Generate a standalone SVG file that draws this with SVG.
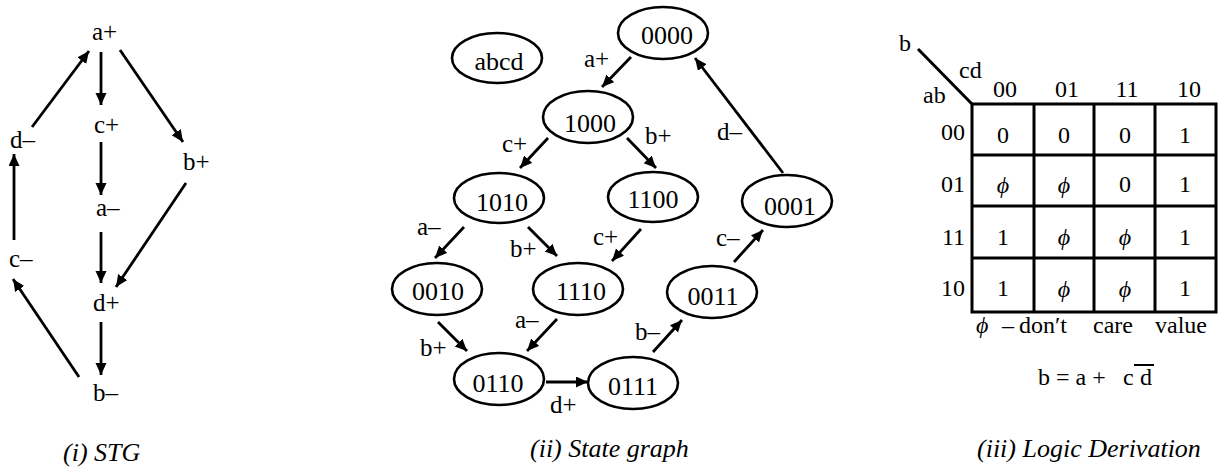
<svg xmlns="http://www.w3.org/2000/svg" width="1218" height="471" viewBox="0 0 1218 471">
<style>
text{font-family:"Liberation Serif","Times New Roman",serif;fill:#000}
.lb{font-size:25px}
.dg{font-size:26px;text-anchor:middle}
.cap{font-size:26px;font-style:italic}
.km{font-size:24px}
.kc{font-size:24px;text-anchor:middle}
.phi{font-style:italic;font-family:"Liberation Serif","DejaVu Serif",serif}
.st{fill:#fff;stroke:#000;stroke-width:2.6}
.ar{stroke:#000;stroke-width:2.8;fill:none;marker-end:url(#ah)}
.gr{stroke:#000;stroke-width:3;fill:none}
</style>
<defs>
<marker id="ah" markerUnits="userSpaceOnUse" markerWidth="14" markerHeight="12" refX="12" refY="5.5" orient="auto">
<path d="M0,0 L12,5.5 L0,11 z" fill="#000"/>
</marker>
</defs>
<rect width="1218" height="471" fill="#fff"/>

<!-- (i) STG -->
<g id="stg-connectors">
<line class="ar" x1="101" y1="52" x2="101" y2="105"/>
<line class="ar" x1="101" y1="142" x2="101" y2="195"/>
<line class="ar" x1="101" y1="232" x2="101" y2="283"/>
<line class="ar" x1="101" y1="322" x2="101" y2="375"/>
<line class="ar" x1="79" y1="377" x2="13" y2="279"/>
<line class="ar" x1="14" y1="240" x2="14" y2="154"/>
<line class="ar" x1="32" y1="127" x2="89" y2="51"/>
<line class="ar" x1="120" y1="50" x2="183" y2="142"/>
<line class="ar" x1="186" y1="183" x2="116" y2="287"/>
</g>
<g id="stg-aplus"><text class="lb" x="92" y="40">a+</text></g>
<g id="stg-cplus"><text class="lb" x="94" y="133">c+</text></g>
<g id="stg-aminus"><text class="lb" x="96" y="216">a–</text></g>
<g id="stg-dplus"><text class="lb" x="93" y="311">d+</text></g>
<g id="stg-bminus"><text class="lb" x="93" y="401">b–</text></g>
<g id="stg-dminus"><text class="lb" x="10" y="148">d–</text></g>
<g id="stg-cminus"><text class="lb" x="9" y="267">c–</text></g>
<g id="stg-bplus"><text class="lb" x="183" y="170">b+</text></g>
<text class="cap" x="63" y="461">(i) STG</text>

<!-- (ii) State graph -->
<g id="sg-connectors">
<line class="ar" x1="631" y1="57" x2="602" y2="87"/>
<line class="ar" x1="548" y1="138" x2="520" y2="168"/>
<line class="ar" x1="627" y1="138" x2="656" y2="168"/>
<line class="ar" x1="783" y1="173" x2="695" y2="58"/>
<line class="ar" x1="464" y1="227" x2="435" y2="258"/>
<line class="ar" x1="528" y1="227" x2="557" y2="256"/>
<line class="ar" x1="641" y1="229" x2="612" y2="261"/>
<line class="ar" x1="734" y1="262" x2="763" y2="230"/>
<line class="ar" x1="438" y1="322" x2="467" y2="351"/>
<line class="ar" x1="557" y1="319" x2="527" y2="351"/>
<line class="ar" x1="546" y1="382" x2="588" y2="382"/>
<line class="ar" x1="653" y1="352" x2="682" y2="320"/>
<text class="lb" x="584" y="67">a+</text>
<text class="lb" x="502" y="152">c+</text>
<text class="lb" x="645" y="144">b+</text>
<text class="lb" x="717" y="140">d–</text>
<text class="lb" x="417" y="235">a–</text>
<text class="lb" x="510" y="257">b+</text>
<text class="lb" x="593" y="245">c+</text>
<text class="lb" x="716" y="246">c–</text>
<text class="lb" x="515" y="328">a–</text>
<text class="lb" x="635" y="340">b–</text>
<text class="lb" x="420" y="356">b+</text>
<text class="lb" x="550" y="413">d+</text>
</g>
<g id="sg-abcd"><ellipse class="st" cx="497" cy="58" rx="45" ry="25"/><text class="dg" x="499" y="70">abcd</text></g>
<g id="sg-0000"><ellipse class="st" cx="663" cy="33" rx="45" ry="26"/><text class="dg" x="667" y="44">0000</text></g>
<g id="sg-1000"><ellipse class="st" cx="588" cy="117" rx="45" ry="26"/><text class="dg" x="590" y="132">1000</text></g>
<g id="sg-1010"><ellipse class="st" cx="499" cy="198" rx="45" ry="25"/><text class="dg" x="502" y="211">1010</text></g>
<g id="sg-1100"><ellipse class="st" cx="653" cy="197" rx="45" ry="25"/><text class="dg" x="653" y="208">1100</text></g>
<g id="sg-0001"><ellipse class="st" cx="787" cy="201" rx="45" ry="26"/><text class="dg" x="790" y="215">0001</text></g>
<g id="sg-0011"><ellipse class="st" cx="712" cy="292" rx="45" ry="26"/><text class="dg" x="713" y="305">0011</text></g>
<g id="sg-0010"><ellipse class="st" cx="437" cy="289" rx="45" ry="26"/><text class="dg" x="438" y="300">0010</text></g>
<g id="sg-1110"><ellipse class="st" cx="578" cy="289" rx="45" ry="26"/><text class="dg" x="581" y="300">1110</text></g>
<g id="sg-0110"><ellipse class="st" cx="499" cy="379" rx="45" ry="26"/><text class="dg" x="498" y="392">0110</text></g>
<g id="sg-0111"><ellipse class="st" cx="633" cy="383" rx="45" ry="26"/><text class="dg" x="633" y="395">0111</text></g>
<text class="cap" x="530" y="457">(ii) State graph</text>

<!-- (iii) Logic Derivation -->
<g id="kmap">
<line class="gr" x1="918" y1="49" x2="972" y2="104"/>
<rect class="gr" x="972" y="104" width="244" height="208"/>
<line class="gr" x1="1034" y1="104" x2="1034" y2="312"/>
<line class="gr" x1="1094" y1="104" x2="1094" y2="312"/>
<line class="gr" x1="1155" y1="104" x2="1155" y2="312"/>
<line class="gr" x1="972" y1="155" x2="1216" y2="155"/>
<line class="gr" x1="972" y1="206" x2="1216" y2="206"/>
<line class="gr" x1="972" y1="258" x2="1216" y2="258"/>
<text class="km" x="899" y="51">b</text>
<text class="km" x="959" y="78">cd</text>
<text class="km" x="923" y="103">ab</text>
<text class="kc" x="1005" y="97">00</text>
<text class="kc" x="1067" y="97">01</text>
<text class="kc" x="1127" y="97">11</text>
<text class="kc" x="1189" y="97">10</text>
<text class="km" x="965" y="140" text-anchor="end">00</text>
<text class="km" x="965" y="192" text-anchor="end">01</text>
<text class="km" x="965" y="245" text-anchor="end">11</text>
<text class="km" x="965" y="296" text-anchor="end">10</text>
<text class="kc" x="1003" y="143">0</text>
<text class="kc" x="1064" y="143">0</text>
<text class="kc" x="1125" y="143">0</text>
<text class="kc" x="1185" y="143">1</text>
<text class="kc phi" x="1003" y="193">ϕ</text>
<text class="kc phi" x="1064" y="193">ϕ</text>
<text class="kc" x="1125" y="192">0</text>
<text class="kc" x="1185" y="192">1</text>
<text class="kc" x="1003" y="245">1</text>
<text class="kc phi" x="1064" y="245">ϕ</text>
<text class="kc phi" x="1125" y="245">ϕ</text>
<text class="kc" x="1185" y="245">1</text>
<text class="kc" x="1003" y="296">1</text>
<text class="kc phi" x="1064" y="297">ϕ</text>
<text class="kc phi" x="1125" y="297">ϕ</text>
<text class="kc" x="1185" y="296">1</text>
<text class="km phi" x="976" y="333">ϕ</text>
<text class="km" x="1002" y="333">–</text>
<text class="km" x="1019" y="333">don′t</text>
<text class="km" x="1093" y="333">care</text>
<text class="km" x="1155" y="333">value</text>
<text class="km" x="1038" y="385">b = a +</text>
<text class="km" x="1123" y="385">c</text>
<text class="km" x="1140" y="385">d</text>
<line x1="1134" y1="365" x2="1154" y2="365" stroke="#000" stroke-width="2"/>
</g>
<text class="cap" x="977" y="457">(iii) Logic Derivation</text>
</svg>
